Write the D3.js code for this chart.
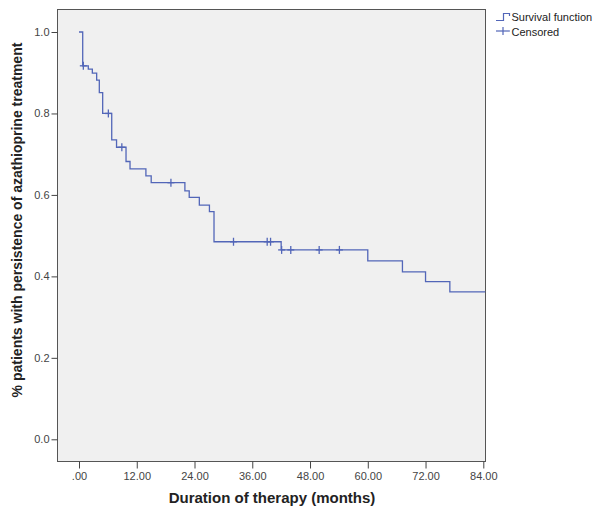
<!DOCTYPE html>
<html>
<head>
<meta charset="utf-8">
<script src="https://cdn.jsdelivr.net/npm/d3@7"></script>
<style>
  html, body { margin: 0; padding: 0; background: #ffffff; }
  svg { display: block; }
  text { font-family: "Liberation Sans", Arial, sans-serif; }
</style>
</head>
<body>
<svg id="chart" width="602" height="516"></svg>
<script>
// ---- Data ----
// Kaplan-Meier step function: time (months) at which the curve drops, and value after the drop
const stepTimes  = [0, 0.77, 1.93, 2.77, 3.67, 4.22, 4.92, 6.8, 7.8, 9.77, 10.6, 13.9, 15.0, 22.0, 22.9, 25.0, 27.1, 28.05, 42.0, 60.0, 67.2, 72.0, 77.05];
const stepValues = [1.0, 0.917, 0.909, 0.899, 0.882, 0.851, 0.800, 0.735, 0.717, 0.682, 0.664, 0.647, 0.630, 0.610, 0.594, 0.575, 0.559, 0.485, 0.465, 0.438, 0.411, 0.387, 0.362];
const lastTime = 84.4;
// Censored observations (months)
const censorTimes = [0.9, 6.1, 8.9, 19.1, 32.1, 39.1, 39.8, 42.1, 44.0, 49.9, 54.1];
// Axis ticks
const xTicks = [0, 12, 24, 36, 48, 60, 72, 84];
const yTicks = [0, 0.2, 0.4, 0.6, 0.8, 1.0];
const legendLabels = ["Survival function", "Censored"];
const xTitle = "Duration of therapy (months)";
const yTitle = "% patients with persistence of azathioprine treatment";

// ---- Layout ----
const svg = d3.select("#chart");
const frame = { left: 57.5, top: 9.5, right: 485.5, bottom: 461.5 };
const x = d3.scaleLinear().domain([0, 84]).range([79, 483.3]);
const y = d3.scaleLinear().domain([0, 1]).range([439.3, 32]);
const lineColor = "#5266b8";

// plot background + frame
svg.append("rect")
  .attr("x", frame.left).attr("y", frame.top)
  .attr("width", frame.right - frame.left).attr("height", frame.bottom - frame.top)
  .attr("fill", "#f0f0f0").attr("stroke", "#555").attr("stroke-width", 1);

// Y axis
const yAxis = d3.axisLeft(y).tickValues(yTicks).tickFormat(d3.format(".1f")).tickSize(6).tickPadding(2);
const gy = svg.append("g").attr("transform", `translate(${frame.left},0)`).call(yAxis);
gy.select(".domain").remove();
gy.selectAll(".tick line").attr("stroke", "#444");
gy.selectAll(".tick text").attr("fill", "#444").style("font-size", "11px").style("font-family", "Liberation Sans, Arial, sans-serif");

// X axis
const xAxis = d3.axisBottom(x).tickValues(xTicks).tickFormat(d => d === 0 ? ".00" : d3.format(".2f")(d)).tickSize(7).tickPadding(4);
const gx = svg.append("g").attr("transform", `translate(0,${frame.bottom})`).call(xAxis);
gx.select(".domain").remove();
gx.selectAll(".tick line").attr("stroke", "#444");
gx.selectAll(".tick text").attr("fill", "#444").style("font-size", "11px").style("font-family", "Liberation Sans, Arial, sans-serif");

// Axis titles
svg.append("text")
  .attr("x", 272).attr("y", 503)
  .attr("text-anchor", "middle")
  .style("font-size", "15px").style("font-weight", "bold").attr("fill", "#222")
  .text(xTitle);
svg.append("text")
  .attr("transform", "translate(22,220) rotate(-90)")
  .attr("text-anchor", "middle")
  .style("font-size", "14px").style("font-weight", "bold").attr("fill", "#222")
  .text(yTitle);

// Survival step curve
const pts = stepTimes.map((t, i) => [t, stepValues[i]]);
pts.push([lastTime, stepValues[stepValues.length - 1]]);
const line = d3.line().x(d => x(d[0])).y(d => y(d[1])).curve(d3.curveStepAfter);
svg.append("path")
  .attr("d", line(pts))
  .attr("fill", "none").attr("stroke", lineColor).attr("stroke-width", 1.3);

// survival value at a time (step function)
function survivalAt(t) {
  let v = stepValues[0];
  for (let i = 0; i < stepTimes.length; i++) if (stepTimes[i] <= t) v = stepValues[i];
  return v;
}
// Censored marks
const cg = svg.append("g").attr("stroke", lineColor).attr("stroke-width", 1.3);
censorTimes.forEach(t => {
  const cx = x(t), cy = y(survivalAt(t));
  cg.append("line").attr("x1", cx).attr("x2", cx).attr("y1", cy - 4).attr("y2", cy + 4);
  cg.append("line").attr("x1", cx - 3.5).attr("x2", cx + 3.5).attr("y1", cy).attr("y2", cy);
});

// Legend
const lg = svg.append("g");
lg.append("path").attr("d", "M496,20.5 H503.5 V13.5 H509.5 V16")
  .attr("fill", "none").attr("stroke", lineColor).attr("stroke-width", 1.2);
lg.append("line").attr("x1", 496).attr("x2", 510).attr("y1", 31).attr("y2", 31)
  .attr("stroke", lineColor).attr("stroke-width", 1.2);
lg.append("line").attr("x1", 503).attr("x2", 503).attr("y1", 27).attr("y2", 35)
  .attr("stroke", lineColor).attr("stroke-width", 1.2);
lg.selectAll("text.lab").data(legendLabels).enter().append("text")
  .attr("class", "lab")
  .attr("x", 511.5).attr("y", (d, i) => 21 + i * 15)
  .style("font-size", "11px").attr("fill", "#222")
  .text(d => d);
</script>
</body>
</html>
